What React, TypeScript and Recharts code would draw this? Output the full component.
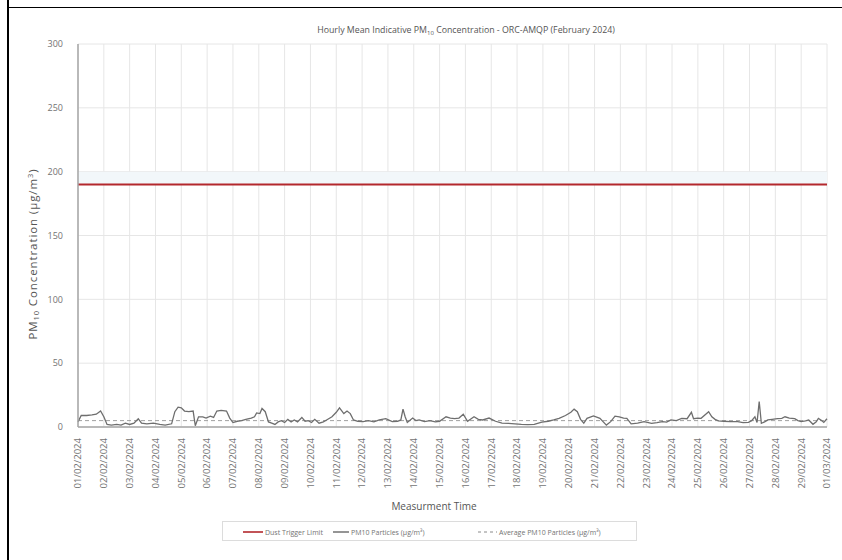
import React from "react";
import {
  LineChart,
  Line,
  XAxis,
  YAxis,
  CartesianGrid,
  ReferenceLine,
  ReferenceArea,
} from "recharts";

// one label per day, tick every 24 h
const dateLabels = [
  "01/02/2024", "02/02/2024", "03/02/2024", "04/02/2024", "05/02/2024",
  "06/02/2024", "07/02/2024", "08/02/2024", "09/02/2024", "10/02/2024",
  "11/02/2024", "12/02/2024", "13/02/2024", "14/02/2024", "15/02/2024",
  "16/02/2024", "17/02/2024", "18/02/2024", "19/02/2024", "20/02/2024",
  "21/02/2024", "22/02/2024", "23/02/2024", "24/02/2024", "25/02/2024",
  "26/02/2024", "27/02/2024", "28/02/2024", "29/02/2024", "01/03/2024",
];
const dayTicks = dateLabels.map((_, i) => i * 24);
const yTicks = [0, 50, 100, 150, 200, 250, 300];

const DUST_TRIGGER_LIMIT = 190;
const AVERAGE_PM10 = 5;

// hours since 01/02/2024 00:00
const hours = [
  0, 3, 8, 13, 17, 21, 24, 27, 31, 36, 40, 44, 48, 52, 56, 59, 64, 70, 76, 81,
  87, 90, 93, 96, 99, 103, 107, 109, 112, 116, 119, 123, 126, 129, 133, 138, 141, 144, 148, 152,
  156, 161, 164, 166, 169, 171, 174, 177, 180, 183, 186, 189, 192, 195, 198, 201, 204, 208, 211, 214,
  217, 220, 224, 228, 231, 236, 240, 243, 247, 250, 253, 256, 260, 265, 270, 275, 280, 286, 292, 297,
  300, 302, 304, 306, 311, 314, 317, 322, 327, 332, 336, 342, 346, 350, 354, 358, 362, 368, 372, 376,
  382, 388, 394, 400, 406, 412, 418, 424, 431, 437, 442, 447, 453, 458, 461, 464, 467, 470, 473, 479,
  485, 491, 495, 499, 503, 507, 510, 514, 520, 526, 533, 538, 543, 547, 551, 556, 561, 566, 570, 572,
  576, 579, 586, 589, 592, 595, 600, 606, 613, 618, 623, 626, 629, 631, 633, 635, 638, 641, 645, 650,
  654, 657, 661, 666, 669, 672, 676, 679, 683, 686, 688, 691, 693, 696,
];
const pm10 = [
  4, 9, 9, 9.5, 10, 12.5, 8, 2, 1.5, 2, 1.5, 3, 2, 3, 6.5, 3, 2.5, 3, 2, 1.5,
  2.5, 12, 15.5, 15, 12.5, 12, 12.5, 1, 8, 8, 7, 8.5, 7.5, 12.5, 13, 12.5, 7, 3.5, 4.5, 5,
  6, 7, 8, 11, 10.5, 14.5, 12, 4, 3, 2, 4, 5, 3.5, 6, 4, 5.5, 4, 7.5, 4.5, 5,
  3.5, 6, 3, 4, 5.5, 8, 11.5, 15, 10.5, 12.5, 10.5, 5.5, 4.5, 4.2, 5, 4, 5.5, 6.5, 4.2, 4.5,
  5.5, 14, 8, 3.5, 7, 5, 5.5, 4.2, 5, 4, 4.5, 8, 7, 6.5, 7, 10, 4.5, 8, 6, 5.5,
  7, 4.5, 3, 2.8, 2.5, 2, 1.9, 2, 3.8, 4.5, 5.5, 6.8, 9, 11.5, 14, 12, 6, 3, 6.8, 8.7,
  6.8, 1.5, 4.2, 8.5, 8, 7, 6.8, 2.5, 3, 4.2, 2.9, 3.5, 4.2, 3.8, 5.5, 5, 6.8, 6.5, 11.5, 6.5,
  7, 6.8, 12, 8, 6, 4.8, 4.5, 4.2, 4.2, 3.5, 3.6, 5, 8, 3.5, 20, 2.9, 4, 5.5, 6, 6.5,
  6.8, 8, 7, 6.5, 5, 4.2, 4.8, 5.5, 2.1, 4, 6.8, 5, 3.6, 6.5,
];

const data = hours.map((h, i) => ({ h, pm10: pm10[i] }));

const FONT = "'Open Sans', 'Noto Sans', sans-serif";
const GREY_TEXT = "#737373";

const DateTick = (props: any) => {
  const { x, y, payload } = props;
  const label = dateLabels[Math.round(payload.value / 24)] ?? "";
  return (
    <g transform={`translate(${x},${y + 3})`}>
      <text
        transform="rotate(-90)"
        textAnchor="end"
        dy="0.35em"
        fontSize={9.5}
        fill={GREY_TEXT}
        fontFamily={FONT}
      >
        {label}
      </text>
    </g>
  );
};

const LegendItem = ({
  left,
  color,
  dash,
  width,
  children,
}: {
  left: number;
  color: string;
  dash?: string;
  width: number;
  children: React.ReactNode;
}) => (
  <div
    style={{
      position: "absolute",
      left,
      top: 0,
      height: 20,
      display: "flex",
      alignItems: "center",
      whiteSpace: "nowrap",
    }}
  >
    <svg width={width} height={6} style={{ marginRight: 2 }}>
      <line
        x1={0}
        x2={width}
        y1={3}
        y2={3}
        stroke={color}
        strokeWidth={dash ? 1 : 1.6}
        strokeDasharray={dash}
      />
    </svg>
    <span style={{ fontSize: 7, color: GREY_TEXT, fontFamily: FONT }}>{children}</span>
  </div>
);

const App: React.FC = () => {
  return (
    <div
      style={{
        position: "absolute",
        left: 0,
        top: 0,
        width: 842,
        height: 560,
        background: "#fff",
        overflow: "hidden",
      }}
    >
      {/* frame lines of the page */}
      <div
        style={{
          position: "absolute",
          left: 7,
          top: 7,
          width: 835,
          height: 553,
          borderLeft: "2px solid #000",
          borderTop: "1.5px solid #000",
        }}
      />
      <div style={{ position: "absolute", left: 7, top: 0, width: 2, height: 8, background: "#000" }} />

      <LineChart
        width={842}
        height={560}
        data={data}
        margin={{ top: 44, right: 15, bottom: 53, left: 18 }}
        style={{ position: "absolute", left: 0, top: 0 }}
      >
        <text
          x={466}
          y={33}
          textAnchor="middle"
          fontSize={8.8}
          fill="#555"
          fontFamily={FONT}
        >
          Hourly Mean Indicative PM
          <tspan fontSize={6} dy={2}>10</tspan>
          <tspan dy={-2}> Concentration - ORC-AMQP (February 2024)</tspan>
        </text>

        <ReferenceArea y1={DUST_TRIGGER_LIMIT} y2={200} fill="#f2f7fa" fillOpacity={1} stroke="none" ifOverflow="hidden" />
        <CartesianGrid stroke="#e6e6e6" strokeWidth={1} />

        <XAxis
          dataKey="h"
          type="number"
          domain={[0, 696]}
          ticks={dayTicks}
          interval={0}
          height={80}
          tick={<DateTick />}
          tickLine={false}
          axisLine={{ stroke: "#a6a6a6", strokeWidth: 1.5 }}
          label={() => (
            <text
              x={434}
              y={510}
              textAnchor="middle"
              fontSize={10}
              fill="#555"
              fontFamily={FONT}
            >
              Measurment Time
            </text>
          )}
        />
        <XAxis
          xAxisId="top"
          dataKey="h"
          type="number"
          domain={[0, 696]}
          orientation="top"
          height={0}
          tick={false}
          tickLine={false}
          axisLine={{ stroke: "#bfbfbf", strokeWidth: 1.5 }}
        />
        <YAxis
          domain={[0, 300]}
          ticks={yTicks}
          width={60}
          tickLine={false}
          tickMargin={9}
          tick={{ fontSize: 9, fill: GREY_TEXT, fontFamily: FONT }}
          axisLine={{ stroke: "#a6a6a6", strokeWidth: 1.5 }}
          label={() => (
            <text
              transform={`translate(37,254) rotate(-90)`}
              textAnchor="middle"
              fontSize={11.5}
              letterSpacing={0.9}
              fill="#555"
              fontFamily={FONT}
            >
              PM
              <tspan fontSize={7.5} dy={2}>10</tspan>
              <tspan dy={-2}> Concentration (µg/m</tspan>
              <tspan fontSize={7.5} dy={-4}>3</tspan>
              <tspan dy={4}>)</tspan>
            </text>
          )}
        />
        <YAxis
          yAxisId="right"
          orientation="right"
          domain={[0, 300]}
          width={0}
          tick={false}
          tickLine={false}
          axisLine={{ stroke: "#bfbfbf", strokeWidth: 1.5 }}
        />

        <ReferenceLine y={DUST_TRIGGER_LIMIT} stroke="#b3282d" strokeWidth={2} />
        <ReferenceLine y={AVERAGE_PM10} stroke="#a0a0a0" strokeWidth={1} strokeDasharray="4 3" />

        <Line
          type="linear"
          dataKey="pm10"
          stroke="#6e6e6e"
          strokeWidth={1.3}
          dot={false}
          isAnimationActive={false}
        />
      </LineChart>

      {/* legend */}
      <div
        style={{
          position: "absolute",
          left: 222,
          top: 521,
          width: 415,
          height: 20,
          border: "1px solid #dcdcdc",
          boxSizing: "border-box",
        }}
      >
        <LegendItem left={20} color="#b3282d" width={20}>Dust Trigger Limit</LegendItem>
        <LegendItem left={110} color="#7a7a7a" width={16}>PM10 Particles (µg/m³)</LegendItem>
        <LegendItem left={255} color="#8a8a8a" dash="3 3" width={19}>Average PM10 Particles (µg/m³)</LegendItem>
      </div>
    </div>
  );
};

export default App;
